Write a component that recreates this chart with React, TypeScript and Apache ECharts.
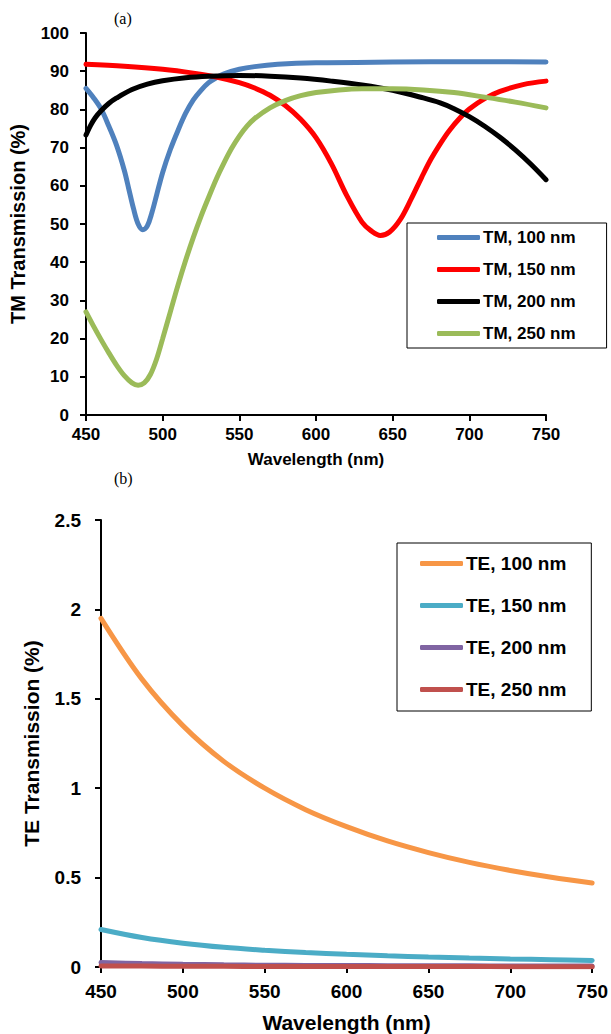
import React, { useEffect, useRef } from "react";
import * as echarts from "echarts";

// ---------- Data: panel (a), TM transmission (%) ----------
const tm100Wl = [450, 455, 460, 465, 470, 475, 478, 481, 484, 487, 490, 493, 496, 500, 505, 510, 515, 520, 525, 530, 535, 540, 550, 560, 575, 600, 650, 700, 750];
const tm100Val = [85.5, 83, 80, 75.5, 70.5, 64, 59, 54, 50, 48.5, 49.5, 53, 57.5, 63.5, 69.5, 74.5, 79, 82.5, 85, 87, 88.3, 89.3, 90.5, 91.2, 91.8, 92.2, 92.4, 92.5, 92.4];

const tm150Wl = [450, 475, 500, 520, 535, 550, 560, 570, 580, 590, 600, 610, 620, 630, 636, 642, 648, 655, 662, 669, 675, 681, 687, 694, 700, 710, 720, 735, 750];
const tm150Val = [91.8, 91.3, 90.5, 89.5, 88.5, 87, 85.6, 83.7, 81, 77.4, 72.6, 65.8, 57.5, 50.5, 48.2, 47, 47.9, 51.2, 56.5, 62.3, 67, 71, 74.5, 77.8, 80.1, 82.8, 84.7, 86.5, 87.4];

const tm200Wl = [450, 453, 456, 460, 465, 470, 480, 490, 500, 515, 530, 550, 570, 590, 610, 630, 650, 670, 681, 690, 700, 710, 720, 730, 740, 750];
const tm200Val = [73.3, 75.8, 77.8, 79.7, 81.6, 83, 85.2, 86.6, 87.5, 88.3, 88.7, 88.9, 88.7, 88.2, 87.4, 86.4, 85, 83, 81.7, 80.2, 78.1, 75.6, 72.7, 69.4, 65.7, 61.6];

const tm250Wl = [450, 455, 460, 465, 470, 475, 480, 484, 488, 492, 496, 500, 505, 510, 515, 520, 525, 530, 535, 540, 545, 550, 555, 560, 570, 580, 590, 600, 615, 630, 650, 670, 690, 710, 730, 750];
const tm250Val = [27, 23.2, 19.6, 16.2, 13, 10.3, 8.4, 7.8, 8.4, 10.6, 14.6, 20, 27, 34, 40.5, 46.5, 52, 57, 61.8, 66, 69.8, 73, 75.6, 77.6, 80.4, 82.3, 83.6, 84.4, 85.1, 85.4, 85.4, 85.1, 84.4, 83.2, 81.9, 80.4];

// ---------- Data: panel (b), TE transmission (%) ----------
const teWl = [450, 475, 500, 525, 550, 575, 600, 625, 650, 675, 700, 725, 750];
const te100Val = [1.95, 1.61, 1.35, 1.15, 1.0, 0.88, 0.785, 0.705, 0.64, 0.585, 0.54, 0.502, 0.47];
const te150Val = [0.21, 0.165, 0.133, 0.11, 0.094, 0.081, 0.071, 0.063, 0.056, 0.05, 0.045, 0.041, 0.037];
const te200Val = [0.025, 0.019, 0.015, 0.012, 0.01, 0.009, 0.008, 0.0075, 0.007, 0.0065, 0.006, 0.0055, 0.005];
const te250Val = [0.006, 0.005, 0.004, 0.0035, 0.003, 0.003, 0.003, 0.0025, 0.0025, 0.0025, 0.002, 0.002, 0.002];

const tmNames = ["TM, 100 nm", "TM, 150 nm", "TM, 200 nm", "TM, 250 nm"];
const teNames = ["TE, 100 nm", "TE, 150 nm", "TE, 200 nm", "TE, 250 nm"];
const xTicks = { min: 450, max: 750, interval: 50 };

const FONT = "'Liberation Sans', Arial, sans-serif";
const SERIF = "'Liberation Serif', 'Times New Roman', serif";

const pairs = (xs: number[], ys: number[]) => xs.map((x, i) => [x, ys[i]]);

export default function App() {
  const ref = useRef<HTMLDivElement>(null);
  useEffect(() => {
    if (!ref.current) return;
    const chart = echarts.init(ref.current, undefined, { renderer: "svg" });

    const line = (name: string, data: number[][], color: string, xi: number, yi: number) => ({
      type: "line",
      name,
      xAxisIndex: xi,
      yAxisIndex: yi,
      data,
      smooth: 0.35,
      showSymbol: false,
      symbol: "none",
      lineStyle: { color, width: 5, cap: "round" },
      itemStyle: { color },
      z: 3,
    });

    const axisCommon = {
      axisLine: { show: true, onZero: false, lineStyle: { color: "#000", width: 2 } },
      axisTick: { show: true, inside: false, length: 6, lineStyle: { color: "#000", width: 2 } },
      splitLine: { show: false },
    };

    const option: any = {
      animation: false,
      backgroundColor: "#fff",
      grid: [
        { left: 86, right: 65, top: 33, height: 382 },
        { left: 101, right: 15, top: 520, height: 447 },
      ],
      xAxis: [
        {
          gridIndex: 0,
          type: "value",
          ...xTicks,
          ...axisCommon,
          axisLabel: { color: "#000", fontFamily: FONT, fontWeight: "bold", fontSize: 17, margin: 11 },
          name: "Wavelength (nm)",
          nameLocation: "middle",
          nameGap: 36,
          nameTextStyle: { color: "#000", fontFamily: FONT, fontWeight: "bold", fontSize: 17, verticalAlign: "top" },
        },
        {
          gridIndex: 1,
          type: "value",
          ...xTicks,
          ...axisCommon,
          axisLabel: { color: "#000", fontFamily: FONT, fontWeight: "bold", fontSize: 19, margin: 15 },
          name: "Wavelength (nm)",
          nameLocation: "middle",
          nameGap: 45,
          nameTextStyle: { color: "#000", fontFamily: FONT, fontWeight: "bold", fontSize: 21, verticalAlign: "top" },
        },
      ],
      yAxis: [
        {
          gridIndex: 0,
          type: "value",
          min: 0,
          max: 100,
          interval: 10,
          ...axisCommon,
          axisLabel: { color: "#000", fontFamily: FONT, fontWeight: "bold", fontSize: 17, margin: 17 },
          name: "TM Transmission (%)",
          nameLocation: "middle",
          nameGap: 58,
          nameTextStyle: { color: "#000", fontFamily: FONT, fontWeight: "bold", fontSize: 20 },
        },
        {
          gridIndex: 1,
          type: "value",
          min: 0,
          max: 2.5,
          interval: 0.5,
          ...axisCommon,
          axisLabel: { color: "#000", fontFamily: FONT, fontWeight: "bold", fontSize: 19, margin: 20 },
          name: "TE Transmission (%)",
          nameLocation: "middle",
          nameGap: 59,
          nameTextStyle: { color: "#000", fontFamily: FONT, fontWeight: "bold", fontSize: 21 },
        },
      ],
      legend: [
        {
          data: tmNames,
          orient: "vertical",
          left: 407,
          top: 223,
          padding: [6, 31, 6, 30],
          itemGap: 15,
          itemWidth: 43,
          itemHeight: 5,
          icon: "roundRect",
          borderColor: "#000",
          borderWidth: 1,
          textStyle: { color: "#000", fontFamily: FONT, fontWeight: "bold", fontSize: 17, padding: [0, 0, 0, -2] },
        },
        {
          data: teNames,
          orient: "vertical",
          left: 397,
          top: 543,
          padding: [11, 25, 12, 23],
          itemGap: 23,
          itemWidth: 43,
          itemHeight: 5,
          icon: "roundRect",
          borderColor: "#000",
          borderWidth: 1,
          textStyle: { color: "#000", fontFamily: FONT, fontWeight: "bold", fontSize: 19, padding: [0, 0, 0, -2] },
        },
      ],
      graphic: [
        { type: "text", left: 114, top: 10, style: { text: "(a)", fontFamily: SERIF, fontSize: 16, fill: "#000" } },
        { type: "text", left: 114, top: 470, style: { text: "(b)", fontFamily: SERIF, fontSize: 16, fill: "#000" } },
      ],
      series: [
        line(tmNames[0], pairs(tm100Wl, tm100Val), "#4F81BD", 0, 0),
        line(tmNames[1], pairs(tm150Wl, tm150Val), "#FF0000", 0, 0),
        line(tmNames[2], pairs(tm200Wl, tm200Val), "#000000", 0, 0),
        line(tmNames[3], pairs(tm250Wl, tm250Val), "#9BBB59", 0, 0),
        line(teNames[0], pairs(teWl, te100Val), "#F79646", 1, 1),
        line(teNames[1], pairs(teWl, te150Val), "#4BACC6", 1, 1),
        line(teNames[2], pairs(teWl, te200Val), "#8064A2", 1, 1),
        line(teNames[3], pairs(teWl, te250Val), "#C0504D", 1, 1),
      ],
    };
    chart.setOption(option);
    return () => chart.dispose();
  }, []);

  return (
    <div
      ref={ref}
      style={{ position: "fixed", left: 0, top: 0, width: 611, height: 1034, background: "#fff" }}
    />
  );
}
